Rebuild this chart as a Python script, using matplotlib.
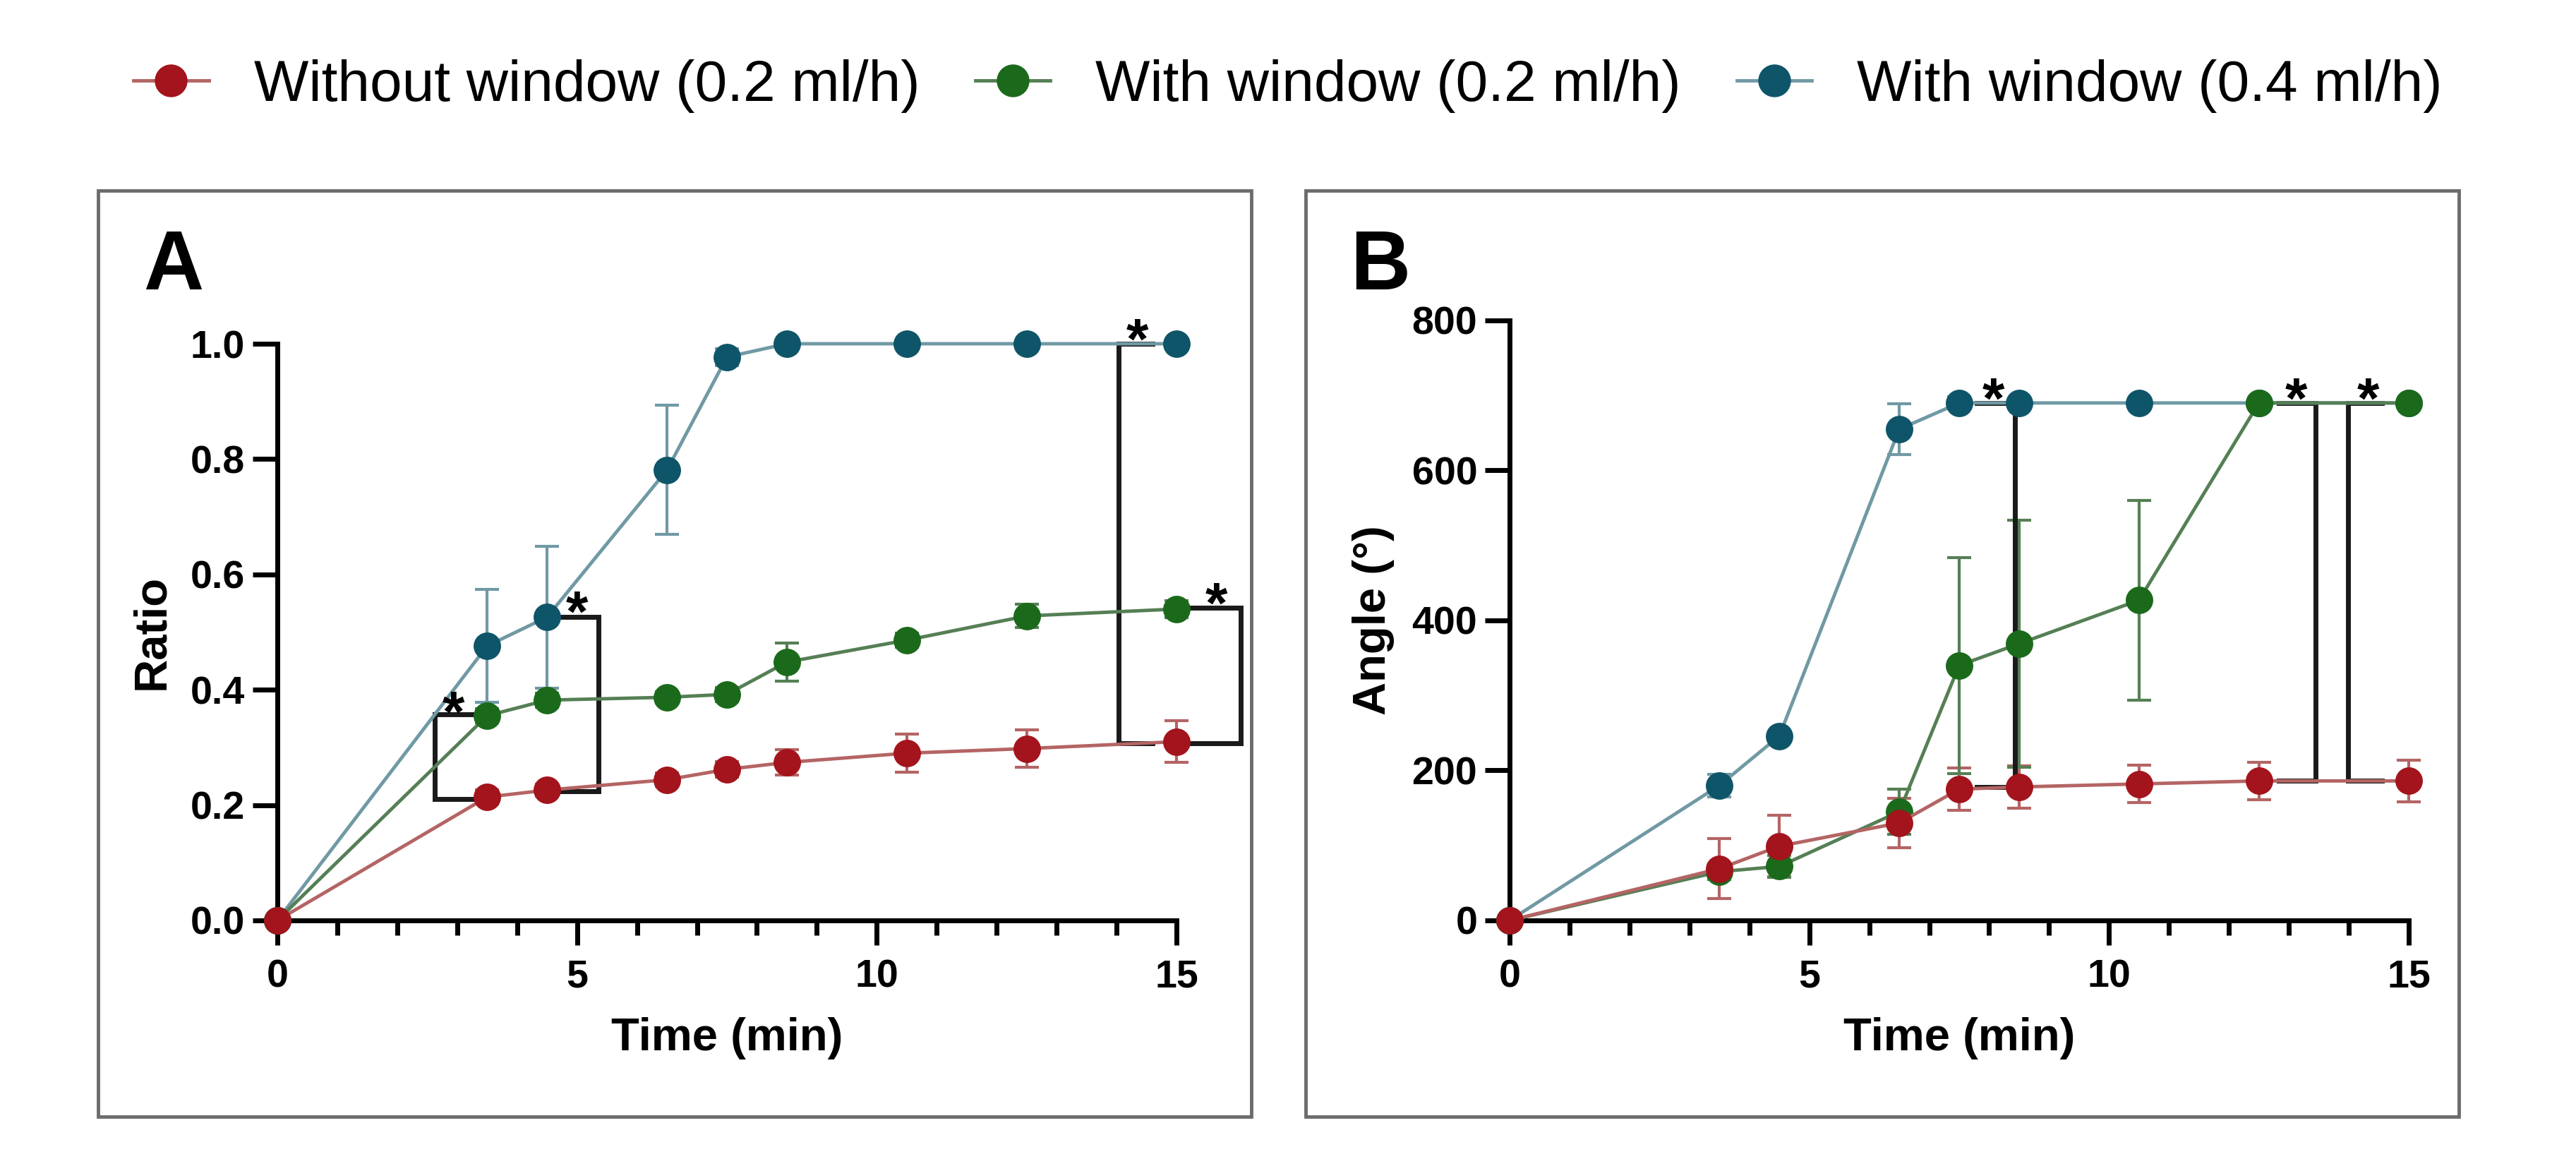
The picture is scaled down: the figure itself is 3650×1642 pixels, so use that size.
import matplotlib.pyplot as plt
from matplotlib.patches import Rectangle
from matplotlib.ticker import MultipleLocator, FormatStrFormatter

plt.rcParams['font.family'] = ['Liberation Sans', 'DejaVu Sans']
plt.rcParams['font.weight'] = 'bold'
plt.rcParams['axes.labelweight'] = 'bold'

# time points (min)
time_min = [0, 3.5, 4.5, 6.5, 7.5, 8.5, 10.5, 12.5, 15]

# panel A: ratio
ratio_without = [0, 0.214, 0.226, 0.244, 0.262, 0.274, 0.290, 0.298, 0.310]
ratio_without_err = [0, 0.012, 0.010, 0.012, 0.014, 0.022, 0.033, 0.033, 0.036]
ratio_with02 = [0, 0.355, 0.382, 0.387, 0.392, 0.448, 0.486, 0.528, 0.540]
ratio_with02_err = [0, 0.012, 0.012, 0.010, 0.012, 0.033, 0.012, 0.020, 0.015]
ratio_with04 = [0, 0.476, 0.526, 0.781, 0.977, 1.0, 1.0, 1.0, 1.0]
ratio_with04_err = [0, 0.098, 0.123, 0.112, 0.015, 0, 0, 0, 0]

# panel B: angle (deg)
angle_without = [0, 69, 99, 130, 175, 178, 182, 186, 186]
angle_without_err = [0, 40, 41, 33, 28, 28, 25, 25, 28]
angle_with02 = [0, 65, 72, 145, 340, 369, 427, 690, 690]
angle_with02_err = [0, 10, 15, 30, 144, 165, 133, 0, 0]
angle_with04 = [0, 180, 246, 655, 690, 690, 690, 690, 690]
angle_with04_err = [0, 15, 5, 34, 8, 0, 0, 0, 0]

labels = ['Without window (0.2 ml/h)', 'With window (0.2 ml/h)', 'With window (0.4 ml/h)']

# significance brackets: (x of vertical, x where arms end, y top, y bottom)
brackets_a = [(2.63, 3.3, 0.358, 0.211), (5.36, 4.75, 0.526, 0.224),
              (14.04, 14.6, 1.0, 0.307), (16.07, 15.25, 0.542, 0.307)]
stars_a = [(2.94, 0.384), (5.0, 0.557), (14.35, 1.03), (15.66, 0.572)]
brackets_b = [(8.43, 7.79, 690, 178), (13.44, 12.83, 690, 186), (13.99, 14.55, 690, 186)]
stars_b = [(8.07, 713), (13.12, 713), (14.32, 713)]

marker_cols = ['#a3141c', '#1b6a1b', '#0f5569']
line_cols = ['#b46464', '#557f55', '#7099a4']

fig = plt.figure(figsize=(36.5, 16.42), dpi=100)

# panel frames
for x0 in [0.03808, 0.50685]:
    fig.add_artist(Rectangle((x0, 0.03654), 0.4478, 0.79903, transform=fig.transFigure,
                             fill=False, edgecolor='#6c6c6c', lw=3.5))

ax_a = fig.add_axes([0.10767, 0.20585, 0.34904, 0.49756])
ax_b = fig.add_axes([0.58603, 0.20585, 0.34904, 0.51766])


def draw_series(ax, ys, errs):
    handles = []
    # draw order: blue, green, red (red on top)
    for i in [2, 1, 0]:
        eb = ax.errorbar(time_min, ys[i], yerr=errs[i], fmt='none', ecolor=line_cols[i],
                         elinewidth=3, capsize=12, capthick=3, zorder=2 + i * 0.01)
        for art in eb.lines[1] + eb.lines[2]:
            art.set_clip_on(False)
        ln, = ax.plot(time_min, ys[i], '-', color=line_cols[i], lw=3.5, marker='o',
                      markersize=27, markerfacecolor=marker_cols[i], markeredgecolor=marker_cols[i],
                      clip_on=False, zorder=3 + (2 - i) * 0.1)
        handles.append(ln)
    return handles[::-1]


def draw_brackets(ax, brackets, stars, fs=58):
    for xv, xa, yt, yb in brackets:
        ax.plot([xa, xv, xv, xa], [yt, yt, yb, yb], color='#1a1a1a', lw=5, clip_on=False,
                zorder=2.5, solid_joinstyle='miter')
    for x, y in stars:
        ax.annotate('*', xy=(x, y), xytext=(0, -0.56 * fs), textcoords='offset points',
                    ha='center', va='baseline', fontsize=fs, fontweight='bold',
                    annotation_clip=False)


def style_axis(ax, ylim, ystep):
    ax.set_xlim(0, 15)
    ax.set_ylim(*ylim)
    for s in ['top', 'right']:
        ax.spines[s].set_visible(False)
    for s in ['left', 'bottom']:
        ax.spines[s].set_linewidth(5)
    ax.xaxis.set_major_locator(MultipleLocator(5))
    ax.xaxis.set_minor_locator(MultipleLocator(1))
    ax.yaxis.set_major_locator(MultipleLocator(ystep))
    ax.tick_params(which='major', length=25, width=5, labelsize=40)
    ax.tick_params(which='minor', axis='x', length=15, width=5)
    ax.tick_params(axis='x', pad=14)
    ax.tick_params(axis='y', pad=8)
    ax.set_xlabel('Time (min)', fontsize=47, fontweight='bold', labelpad=22)


handles = draw_series(ax_a, [ratio_without, ratio_with02, ratio_with04],
                      [ratio_without_err, ratio_with02_err, ratio_with04_err])
draw_brackets(ax_a, brackets_a, stars_a)
style_axis(ax_a, (0, 1.0), 0.2)
ax_a.yaxis.set_major_formatter(FormatStrFormatter('%.1f'))
ax_a.set_ylabel('Ratio', fontsize=47, fontweight='bold', labelpad=18)

draw_series(ax_b, [angle_without, angle_with02, angle_with04],
            [angle_without_err, angle_with02_err, angle_with04_err])
draw_brackets(ax_b, brackets_b, stars_b)
style_axis(ax_b, (0, 800), 200)
ax_b.set_ylabel('Angle (°)', fontsize=47, fontweight='bold', labelpad=18)

fig.text(0.05562, 0.7503, 'A', fontsize=85, fontweight='bold')
fig.text(0.52411, 0.7503, 'B', fontsize=85, fontweight='bold')

fig.legend(handles, labels, loc='center', bbox_to_anchor=(0.5, 0.926), ncol=3, frameon=False,
           prop={'size': 59, 'weight': 'normal'}, handlelength=1.3, handletextpad=0.78,
           columnspacing=0.96, markerscale=1.2)

fig.savefig('out.png', dpi=100, facecolor='white')
